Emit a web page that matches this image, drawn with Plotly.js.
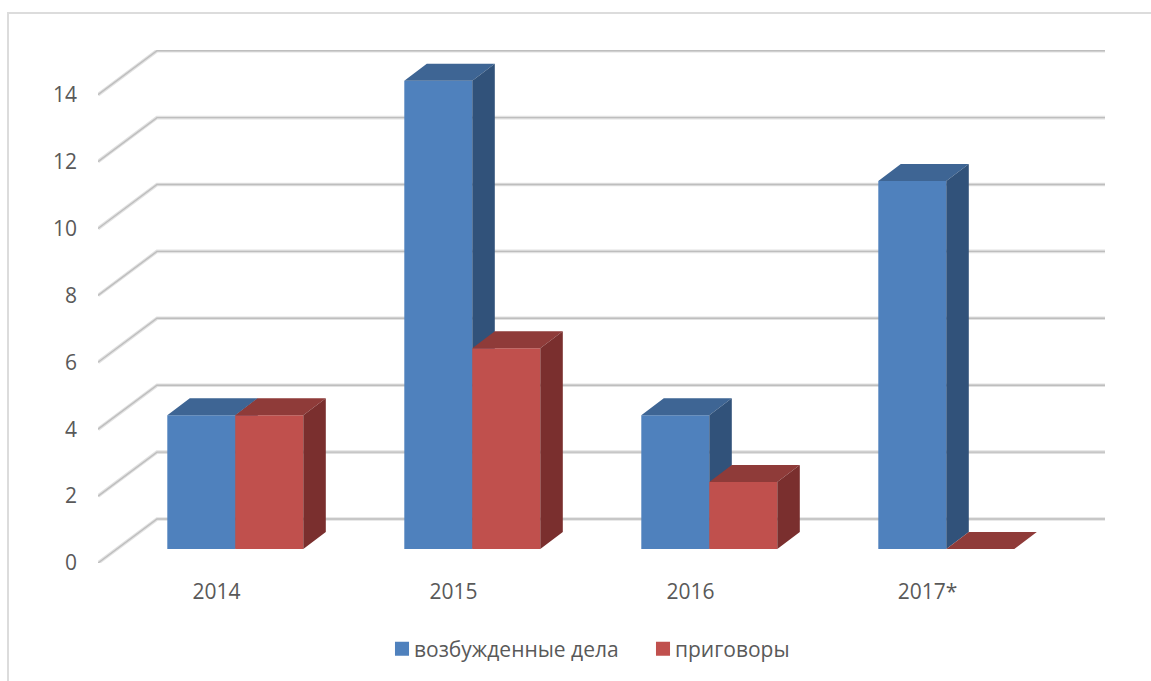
<!DOCTYPE html>
<html>
<head>
<meta charset="utf-8">
<script src="https://cdn.plot.ly/plotly-3.0.1.min.js"></script>
<style>html,body{margin:0;padding:0;background:#fff;overflow:hidden}</style>
</head>
<body>
<div id="chart" style="width:1151px;height:681px"></div>
<script>
// Chart content
const categories = ['2014', '2015', '2016', '2017*'];
const cases = [4, 14, 4, 11];
const verdicts = [4, 6, 2, 0];
const casesName = 'возбужденные дела';
const verdictsName = 'приговоры';
const axisTicks = [0, 2, 4, 6, 8, 10, 12, 14];

// Figure geometry, in pixels
const W = 1151, H = 681;
const plotLeft = 98, plotRight = 1107, plotTop = 50, plotBottom = 563;
const pxPerCategory = 237, pxPerUnit = 33.45;
const floorDepth = { x: 59, y: 44 };   // front edge of the floor to the back wall
const barDepth = { x: 22.5, y: 17 };   // front face of a bar to its back face
const barWidth = 68;                   // one bar's front face
const barOrigin = { x: 235.3, y: 549 };  // where the 2014 pair meets the floor

const wallDx = floorDepth.x / pxPerCategory, wallDy = floorDepth.y / pxPerUnit;
const dx = barDepth.x / pxPerCategory, dy = barDepth.y / pxPerUnit;
const bw = barWidth / pxPerCategory;
const positions = categories.map((_, i) => i);

// Axis ranges that put a given data origin at a given pixel
function xRange(originPx) {
  return [(plotLeft - originPx) / pxPerCategory, (plotRight - originPx) / pxPerCategory];
}
function yRange(originPx) {
  return [(originPx - plotBottom) / pxPerUnit, (originPx - plotTop) / pxPerUnit];
}

// Side-wall diagonal plus back-wall line for every axis tick
function wallLines() {
  const x = [], y = [];
  const x0 = -0.5, x1 = categories.length - 0.5 + wallDx;
  axisTicks.forEach(t => {
    x.push(x0, x0 + wallDx, x1, null);
    y.push(t, t + wallDy, t + wallDy, null);
  });
  return { x, y };
}

// The two visible extra faces of each bar
function topFaces(values, offset) {
  const x = [], y = [];
  values.forEach((v, i) => {
    const l = i + offset, r = l + bw;
    x.push(l, r, r + dx, l + dx, l, null);
    y.push(v, v, v + dy, v + dy, v, null);
  });
  return { x, y };
}
function sideFaces(values, offset) {
  const x = [], y = [];
  values.forEach((v, i) => {
    const r = i + offset + bw;
    x.push(r, r + dx, r + dx, r, r, null);
    y.push(0, dy, v + dy, v, 0, null);
  });
  return { x, y };
}

function face(points, color, axes) {
  return {
    type: 'scatter', mode: 'lines', x: points.x, y: points.y, xaxis: axes[0], yaxis: axes[1],
    fill: 'toself', fillcolor: color, line: { width: 0, color: color },
    showlegend: false, hoverinfo: 'skip'
  };
}
function wallTrace(width, color) {
  const p = wallLines();
  return {
    type: 'scatter', mode: 'lines', x: p.x, y: p.y, xaxis: 'x', yaxis: 'y',
    line: { width: width, color: color, shape: 'linear' }, cliponaxis: false,
    showlegend: false, hoverinfo: 'skip'
  };
}
function barTrace(name, values, offset, color, axes) {
  return {
    type: 'bar', name: name, x: positions, y: values, width: bw, offset: offset,
    xaxis: axes[0], yaxis: axes[1],
    marker: { color: color, line: { width: 0 } }
  };
}

const blueAxes = ['x2', 'y2'], redAxes = ['x3', 'y3'];
const traces = [
  wallTrace(3.6, '#e2e2e2'),
  wallTrace(1.4, '#bebebe'),
  barTrace(casesName, cases, -bw, '#4f81bd', blueAxes),
  face(topFaces(cases, -bw), '#3e6594', blueAxes),
  face(sideFaces(cases, -bw), '#31527a', blueAxes),
  barTrace(verdictsName, verdicts, 0, '#c0504d', redAxes),
  face(topFaces(verdicts, 0), '#8f3b39', redAxes),
  face(sideFaces(verdicts, 0), '#7a2f2e', redAxes)
];

const textFont = { family: '"Open Sans", sans-serif', size: 21, color: '#595959' };
const hiddenX = { overlaying: 'x', visible: false, range: xRange(barOrigin.x), fixedrange: true };
const hiddenY = { overlaying: 'y', visible: false, range: yRange(barOrigin.y), fixedrange: true };

const layout = {
  width: W, height: H,
  margin: { l: 0, r: 0, t: 0, b: 0 },
  paper_bgcolor: '#ffffff', plot_bgcolor: 'rgba(0,0,0,0)',
  showlegend: true,
  legend: {
    orientation: 'h', x: 382 / W, y: 1 - 649 / H, xanchor: 'left', yanchor: 'middle',
    entrywidth: 216, entrywidthmode: 'pixels',
    font: textFont, bgcolor: 'rgba(0,0,0,0)'
  },
  xaxis: {
    domain: [plotLeft / W, plotRight / W],
    range: [-0.5, (plotRight - plotLeft) / pxPerCategory - 0.5],
    tickmode: 'array', tickvals: positions, ticktext: categories,
    showgrid: false, zeroline: false, showline: false, ticks: '',
    ticklabelstandoff: 14, tickfont: textFont, fixedrange: true
  },
  yaxis: {
    domain: [1 - plotBottom / H, 1 - plotTop / H],
    range: yRange(plotBottom),
    tickmode: 'array', tickvals: axisTicks, ticktext: axisTicks.map(String),
    showgrid: false, zeroline: false, showline: false, ticks: '',
    ticklabelstandoff: 20, tickfont: textFont, fixedrange: true
  },
  xaxis2: hiddenX, yaxis2: hiddenY,
  xaxis3: hiddenX, yaxis3: hiddenY,
  shapes: [{
    type: 'path', xref: 'paper', yref: 'paper',
    path: `M ${8 / W} 0 L ${8 / W} ${1 - 13 / H} L 1 ${1 - 13 / H}`,
    line: { color: '#dcdcdc', width: 2 }, layer: 'below'
  }]
};

Plotly.newPlot('chart', traces, layout, { displayModeBar: false, responsive: false }).then(gd => {
  // Tighter legend keys: larger swatches, labels closer to them
  gd.querySelectorAll('.legend .legendpoints path').forEach(p => {
    p.setAttribute('transform', (p.getAttribute('transform') || '') + ' scale(1.17)');
  });
  gd.querySelectorAll('.legend .legendtext').forEach(t => t.setAttribute('x', '32'));
});
</script>
</body>
</html>
